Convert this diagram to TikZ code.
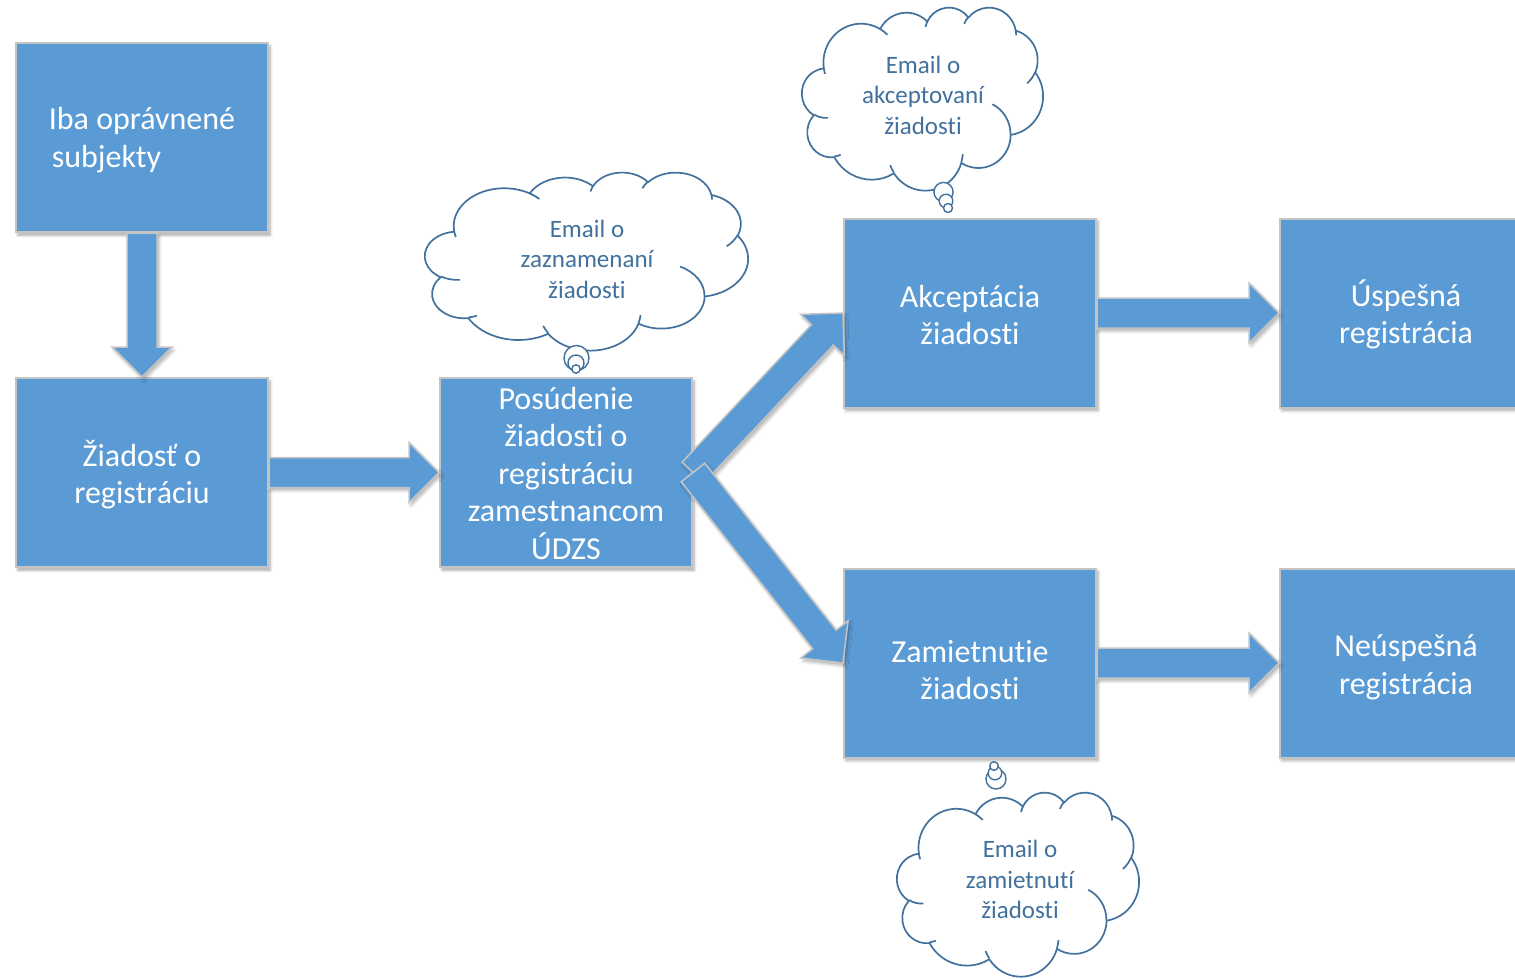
\documentclass[tikz,border=0pt]{standalone}
\usepackage{fontspec}
\setmainfont{Carlito}[Ligatures=NoCommon]
\usetikzlibrary{calc,shadows.blur}
\definecolor{boxblue}{HTML}{5B9BD5}
\definecolor{edgegray}{HTML}{C4C4C4}
\definecolor{cloudblue}{HTML}{41719C}
\newcommand\boxfont{\fontsize{32}{37.5}\selectfont}
\newcommand\cloudfont{\fontsize{25}{30.5}\selectfont}
% box text: alignment, vertical shift, lines
\newcommand\boxtext[3]{\raisebox{#2}[\height][\depth]{\begin{tabular}{@{}#1@{}}#3\end{tabular}}}
\tikzset{
 procbox/.style={draw=edgegray, line width=2pt, fill=boxblue, minimum width=252pt, minimum height=189pt,
   inner sep=0pt, text=white, font=\boxfont,
   blur shadow={shadow xshift=2pt, shadow yshift=-3pt, shadow blur radius=3pt, shadow opacity=35}},
 blockarrow/.style={draw=edgegray, line width=1.5pt, fill=boxblue, line join=miter,
   blur shadow={shadow xshift=2pt, shadow yshift=-3pt, shadow blur radius=3pt, shadow opacity=30}},
 cloudline/.style={draw=cloudblue, line width=1.7pt, line join=round},
 cloudtext/.style={text=cloudblue, font=\cloudfont, align=center, inner sep=0pt},
}
% Office-style arcTo: wR, hR, start (visual) angle, sweep
\newcommand\oarc[4]{%
 \pgfextra{%
  \pgfmathsetmacro\myta{atan2(#1*sin(#3),#2*cos(#3))}%
  \pgfmathsetmacro\mytb{atan2(#1*sin(#3+#4),#2*cos(#3+#4))}%
  \pgfmathsetmacro\mytd{mod(\mytb-\myta+720,360)}%
  \global\let\myta\myta \global\let\mytd\mytd}%
 arc[start angle=\myta, delta angle=\mytd, x radius=#1, y radius=#2]}
\newcommand\officecloud[4]{%
 \begin{scope}[shift={(#1,#2)}, xscale=#3/432, yscale=#4/432]
  \draw[cloudline, fill=white] (39.00,143.70)
   \oarc{67.53}{91.90}{-190.4875}{123.7805}
   \oarc{53.33}{72.67}{-144.1024}{89.9452}
   \oarc{43.65}{59.45}{-145.8079}{99.7230}
   \oarc{48.57}{65.95}{-130.9861}{117.2417}
   \oarc{53.33}{72.73}{-78.7089}{109.0269}
   \oarc{67.75}{92.20}{-46.2673}{130.2690}
   \oarc{57.85}{78.67}{0.6250}{114.0333}
   \oarc{67.52}{92.15}{22.4516}{115.1726}
   \oarc{77.20}{105.43}{66.2426}{75.7110}
   \oarc{43.60}{59.18}{-274.9421}{146.7356}
   \oarc{43.45}{59.45}{-246.8285}{152.5189} -- cycle;
  \draw[cloudline]
   (46.93,261.77) \oarc{43.45}{59.45}{86.7420}{26.4295}
   (69.28,348.99) \oarc{43.60}{59.18}{73.6105}{11.4475}
   (164.78,390.90) \oarc{67.52}{92.15}{137.6242}{14.0811}
   (288.27,347.51) \oarc{67.52}{92.15}{6.4533}{15.9984}
   (341.29,229.54) \oarc{57.85}{78.67}{-70.2924}{70.9174}
   (417.98,153.54) \oarc{53.33}{72.73}{30.3180}{27.7515}
   (383.24,54.26) \oarc{48.57}{65.95}{-13.7443}{14.8589}
   (290.78,39.52) \oarc{48.57}{65.95}{-149.1815}{18.1954}
   (221.41,47.20) \oarc{43.65}{59.45}{-163.4943}{17.6864}
   (140.00,51.92) \oarc{67.53}{91.90}{-66.7070}{12.3194}
   (41.27,157.89) \oarc{67.53}{91.90}{157.6544}{11.8582};
 \end{scope}}
\newcommand\blockarrow[2]{%
 \coordinate (ba-h) at ($(#2)!30pt!(#1)$);
 \draw[blockarrow] ($(#1)!15pt!90:(#2)$) -- ($(ba-h)!15pt!90:(#2)$) -- ($(ba-h)!30pt!90:(#2)$)
   -- (#2) -- ($(ba-h)!30pt!-90:(#2)$) -- ($(ba-h)!15pt!-90:(#2)$) -- ($(#1)!15pt!-90:(#2)$) -- cycle;}

\begin{document}
\begin{tikzpicture}[x=1pt,y=-1pt]
\useasboundingbox (0,0) rectangle (1515,978);

\node[procbox] (b1) at (142,137.5) {\boxtext{l}{-3.5pt}{Iba oprávnené\\\hspace*{3pt}subjekty}};
\node[procbox] (b2) at (142,472.5) {\boxtext{c}{-5pt}{Žiadosť o\\registráciu}};
\node[procbox] (b3) at (566,472.5) {\boxtext{c}{-4.5pt}{Posúdenie\\žiadosti o\\registráciu\\zamestnancom\\ÚDZS}};
\node[procbox] (b4) at (970,313) {\boxtext{c}{-5.5pt}{Akceptácia\\žiadosti}};
\node[procbox] (b5) at (1406,313) {\boxtext{c}{-4.5pt}{Úspešná\\registrácia}};
\node[procbox] (b6) at (970,663) {\boxtext{c}{-10.5pt}{Zamietnutie\\žiadosti}};
\node[procbox] (b7) at (1406,663) {\boxtext{c}{-5pt}{Neúspešná\\registrácia}};

\blockarrow{b1.south}{b2.north}
\blockarrow{b2.east}{b3.west}
\blockarrow{b3.east}{b4.west}
\blockarrow{b3.east}{b6.west}
\blockarrow{b4.east}{b5.west}
\blockarrow{b6.east}{b7.west}

% clouds
\officecloud{425}{172}{323}{178}
\node[cloudtext] (c1) at (587,259) {Email o\\zaznamenaní\\žiadosti};
\draw[cloudline, fill=white, line width=1.4pt] (576.5,358) circle[radius=12.5];
\draw[cloudline, fill=white, line width=1.4pt] (576,363) circle[radius=8];
\draw[cloudline, fill=white, line width=1.4pt] (576,369) circle[radius=4.2];

\officecloud{802}{7}{241}{183}
\node[cloudtext] (c2) at (923,95) {Email o\\akceptovaní\\žiadosti};
\draw[cloudline, fill=white, line width=1.4pt] (943.5,192) circle[radius=9.6];
\draw[cloudline, fill=white, line width=1.4pt] (946,201) circle[radius=6.8];
\draw[cloudline, fill=white, line width=1.4pt] (948,208) circle[radius=4.5];

\officecloud{897}{792}{242}{184}
\node[cloudtext] (c3) at (1020,879.5) {Email o\\zamietnutí\\žiadosti};
\draw[cloudline, fill=white, line width=1.4pt] (996,779) circle[radius=10];
\draw[cloudline, fill=white, line width=1.4pt] (995,773) circle[radius=6.8];
\draw[cloudline, fill=white, line width=1.4pt] (994,766) circle[radius=4.3];
\end{tikzpicture}
\end{document}
